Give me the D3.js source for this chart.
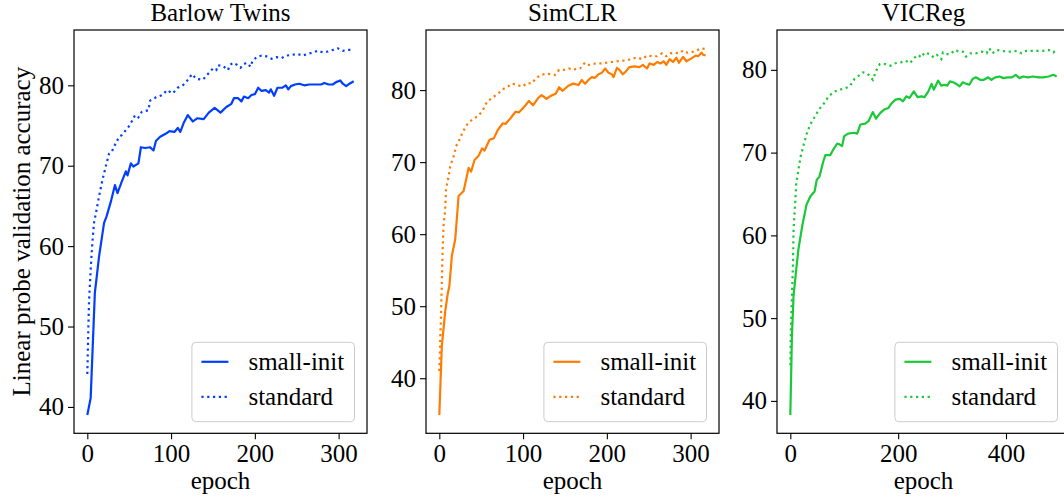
<!DOCTYPE html>
<html>
<head>
<meta charset="utf-8">
<script src="https://cdn.jsdelivr.net/npm/d3@7"></script>
<style>
  body { margin: 0; background: #fff; }
  svg text { font-family: "Liberation Serif", "DejaVu Serif", serif; fill: #000; }
</style>
</head>
<body>
<svg id="chart" width="1064" height="497"></svg>
<script>
// [epoch, accuracy] pairs
const barlowSmall = [[0,39.0],[4,41.1],[9,54.2],[14,58.7],[20,62.9],[23,63.7],[28,65.5],[33,67.6],[36,66.6],[41,68.0],[46,69.3],[48,68.8],[52,70.3],[55,69.9],[61,70.3],[64,72.3],[69,72.2],[75,72.3],[79,71.9],[82,73.1],[87,73.6],[94,74.0],[98,74.3],[104,74.2],[108,74.7],[111,74.2],[115,75.3],[120,76.3],[126,75.5],[131,75.9],[139,75.8],[145,76.6],[152,77.2],[159,76.6],[166,77.3],[172,77.7],[175,78.4],[180,78.4],[184,78.0],[187,78.6],[192,78.4],[196,78.8],[200,78.9],[204,79.7],[208,79.3],[213,79.4],[217,79.1],[219,79.5],[223,78.7],[227,79.7],[233,79.7],[237,80.0],[240,79.5],[243,79.9],[248,80.1],[253,80.2],[259,80.0],[265,80.1],[273,80.1],[279,80.1],[283,80.3],[288,80.1],[293,80.1],[297,80.4],[302,80.6],[305,80.2],[309,79.9],[313,80.2],[318,80.5]];
const barlowStd = [[0,44.1],[1,48.8],[2,53.0],[4,57.1],[6,60.4],[8,62.9],[11,64.5],[14,66.2],[18,68.2],[22,69.9],[26,71.5],[29,71.7],[33,72.6],[38,73.6],[41,73.8],[49,74.8],[53,75.5],[57,76.3],[61,76.0],[65,76.7],[69,76.8],[73,76.9],[75,78.1],[82,78.5],[90,78.8],[95,79.4],[102,79.0],[108,79.7],[114,80.0],[118,80.4],[125,81.4],[130,80.8],[138,80.7],[144,81.4],[150,82.1],[154,81.9],[156,82.5],[162,82.4],[168,81.9],[170,82.5],[174,82.8],[178,82.6],[183,82.2],[186,82.6],[190,82.8],[195,82.3],[197,83.0],[202,83.5],[208,83.7],[214,83.6],[220,83.3],[226,83.5],[232,83.4],[238,83.7],[245,83.8],[251,83.9],[257,83.7],[263,83.9],[270,84.1],[275,84.3],[281,84.1],[287,84.2],[293,84.4],[299,84.6],[305,84.3],[312,84.4],[316,84.4]];

const simclrSmall = [[0,34.9],[3,44.5],[7,49.2],[10,51.7],[12,52.8],[15,57.0],[19,59.3],[23,65.3],[29,66.0],[35,69.2],[38,68.7],[42,70.3],[47,70.9],[51,71.9],[54,71.6],[60,73.1],[65,73.3],[70,74.5],[76,75.4],[79,75.3],[85,76.1],[91,77.0],[95,76.9],[103,77.9],[107,78.5],[112,77.9],[118,78.9],[122,79.3],[128,78.8],[133,79.2],[139,79.5],[143,80.4],[147,79.9],[154,80.6],[160,80.9],[166,80.7],[170,81.4],[174,80.9],[178,81.4],[182,81.8],[186,81.7],[190,82.2],[194,82.4],[198,83.0],[202,82.4],[206,82.2],[208,81.8],[212,83.1],[215,82.8],[219,82.2],[222,82.5],[227,83.2],[233,83.3],[239,83.2],[243,83.5],[248,83.0],[251,83.7],[256,83.5],[260,83.9],[264,83.7],[268,84.0],[271,83.5],[275,84.3],[279,83.9],[283,84.5],[286,83.8],[291,84.6],[295,84.0],[301,84.4],[306,84.8],[309,84.7],[313,85.2],[315,84.9],[318,84.8]];
const simclrStd = [[0,41.0],[1,45.0],[2,48.7],[3,53.3],[4,57.9],[5,61.1],[7,63.4],[8,66.2],[11,68.0],[13,69.4],[17,70.8],[20,72.2],[24,73.1],[28,74.2],[33,75.2],[39,75.9],[45,76.3],[51,77.0],[57,78.4],[63,78.9],[70,79.5],[77,80.2],[82,80.5],[87,80.9],[93,80.7],[99,80.5],[105,81.0],[110,80.9],[115,81.6],[121,82.1],[128,82.3],[133,82.2],[138,82.1],[143,82.8],[149,82.8],[155,83.0],[160,82.8],[164,83.0],[168,83.0],[173,83.7],[176,83.4],[181,83.6],[187,83.7],[193,83.7],[199,83.8],[206,83.9],[212,84.0],[218,84.1],[224,84.1],[230,84.4],[237,84.5],[242,84.3],[248,84.8],[254,84.7],[260,84.7],[266,85.1],[271,84.7],[276,85.1],[282,85.2],[286,85.1],[291,85.5],[296,85.2],[302,85.3],[307,85.5],[312,85.8],[318,85.7]];

const vicregSmall = [[0,38.3],[3,47.8],[6,52.7],[11,55.9],[15,58.3],[22,61.1],[30,63.7],[37,64.7],[45,65.3],[49,66.7],[54,67.1],[61,68.9],[65,69.7],[74,69.7],[80,70.4],[87,71.1],[91,71.0],[96,70.8],[100,72.0],[107,72.3],[118,72.4],[124,72.3],[130,73.4],[139,73.5],[145,73.8],[153,74.9],[159,74.1],[167,74.8],[174,75.2],[182,75.4],[187,75.9],[195,76.4],[203,76.5],[209,76.2],[215,76.8],[221,76.6],[229,77.4],[236,76.7],[243,76.8],[249,76.7],[256,77.4],[262,78.3],[266,77.6],[274,78.7],[280,78.1],[286,78.2],[291,78.1],[296,78.6],[302,78.5],[308,78.3],[314,78.0],[320,78.5],[327,78.3],[332,78.2],[338,78.9],[344,79.1],[352,78.8],[359,78.8],[367,79.1],[373,78.8],[380,79.1],[388,79.2],[395,79.0],[403,79.1],[411,79.1],[418,79.4],[425,79.0],[432,79.2],[441,79.1],[450,79.2],[460,79.1],[469,79.1],[479,79.2],[488,79.4],[494,79.2]];
const vicregStd = [[0,44.3],[1,48.6],[3,52.7],[5,56.7],[6,60.7],[9,63.9],[11,66.3],[15,67.9],[19,69.5],[25,71.0],[31,72.4],[37,73.4],[45,74.3],[53,75.2],[62,75.9],[71,76.8],[80,77.3],[90,77.6],[99,77.7],[110,78.0],[119,78.9],[127,79.3],[135,79.7],[141,79.6],[147,79.3],[153,78.8],[160,80.0],[166,80.7],[176,80.7],[186,80.5],[195,80.8],[205,80.9],[214,81.1],[222,80.8],[229,81.4],[237,81.8],[243,81.5],[249,82.1],[259,81.9],[266,81.5],[272,81.8],[280,81.3],[283,82.1],[289,81.9],[297,81.9],[305,82.4],[313,82.2],[320,82.2],[326,81.6],[334,82.0],[344,82.0],[355,82.2],[364,82.0],[369,82.6],[375,82.0],[383,82.4],[392,82.3],[401,82.2],[411,82.2],[420,82.3],[429,82.0],[438,82.3],[448,82.3],[458,82.3],[468,82.3],[479,82.4],[488,82.1],[494,82.5]];

const titles = ["Barlow Twins", "SimCLR", "VICReg"];
const colors = ["#023eff", "#ff7c00", "#1ac938"];
const seriesNames = ["small-init", "standard"];
const xTicks = [[0, 100, 200, 300], [0, 100, 200, 300], [0, 200, 400]];
const yTicks = [40, 50, 60, 70, 80];

const svg = d3.select("#chart");
const plotTop = 30, plotBottom = 433.3, panelW = 293;
const lefts = [74, 426, 777];
const fs = 25;

const panels = [
  { small: barlowSmall, std: barlowStd },
  { small: simclrSmall, std: simclrStd },
  { small: vicregSmall, std: vicregStd }
];

// matplotlib-style 5% margins around the data
function padded(ext) {
  const p = (ext[1] - ext[0]) * 0.05;
  return [ext[0] - p, ext[1] + p];
}

panels.forEach((p, i) => {
  const all = p.small.concat(p.std);
  const x = d3.scaleLinear()
    .domain(padded(d3.extent(all, d => d[0])))
    .range([lefts[i], lefts[i] + panelW]);
  const y = d3.scaleLinear()
    .domain(padded(d3.extent(all, d => d[1])))
    .range([plotBottom, plotTop]);

  const g = svg.append("g");

  const line = d3.line().x(d => x(d[0])).y(d => y(d[1]));

  g.append("path").datum(p.small)
    .attr("d", line).attr("fill", "none")
    .attr("stroke", colors[i]).attr("stroke-width", 2.2)
    .attr("stroke-linejoin", "round");
  g.append("path").datum(p.std)
    .attr("d", line).attr("fill", "none")
    .attr("stroke", colors[i]).attr("stroke-width", 2.2)
    .attr("stroke-dasharray", "2.2,3.6");

  // axes
  const xAxis = g.append("g").attr("transform", `translate(0,${plotBottom})`)
    .call(d3.axisBottom(x).tickValues(xTicks[i]).tickSize(6).tickPadding(5));
  const yAxis = g.append("g").attr("transform", `translate(${lefts[i]},0)`)
    .call(d3.axisLeft(y).tickValues(yTicks).tickSize(6).tickPadding(4));
  [xAxis, yAxis].forEach(a => {
    a.select(".domain").remove();
    a.selectAll("line").attr("stroke", "#000").attr("stroke-width", 1.1);
    a.selectAll("text").style("font-size", fs + "px")
      .style("font-family", '"Liberation Serif", serif');
  });

  // frame
  g.append("rect")
    .attr("x", lefts[i]).attr("y", plotTop)
    .attr("width", panelW).attr("height", plotBottom - plotTop)
    .attr("fill", "none").attr("stroke", "#000").attr("stroke-width", 1.2);

  g.append("text")
    .attr("x", lefts[i] + panelW / 2).attr("y", 21)
    .attr("text-anchor", "middle").style("font-size", fs + "px")
    .text(titles[i]);
  g.append("text")
    .attr("x", lefts[i] + panelW / 2).attr("y", 489)
    .attr("text-anchor", "middle").style("font-size", fs + "px")
    .text("epoch");

  // legend
  const lx = lefts[i] + panelW - 12.5 - 162.6, ly = plotBottom - 11.6 - 79.4;
  const lg = g.append("g").attr("transform", `translate(${lx},${ly})`);
  lg.append("rect")
    .attr("width", 162.6).attr("height", 79.4).attr("rx", 4)
    .attr("fill", "#fff").attr("fill-opacity", 0.8)
    .attr("stroke", "#cccccc").attr("stroke-width", 1);
  seriesNames.forEach((name, k) => {
    const cy = 19.5 + k * 35;
    lg.append("line")
      .attr("x1", 9.5).attr("x2", 36.5).attr("y1", cy).attr("y2", cy)
      .attr("stroke", colors[i]).attr("stroke-width", 2.2)
      .attr("stroke-dasharray", k === 1 ? "2.2,3.6" : null);
    lg.append("text")
      .attr("x", 56.5).attr("y", cy + 8)
      .style("font-size", fs + "px")
      .text(name);
  });
});

svg.append("text")
  .attr("transform", `translate(30,${(plotTop + plotBottom) / 2}) rotate(-90)`)
  .attr("text-anchor", "middle").style("font-size", fs + "px")
  .text("Linear probe validation accuracy");
</script>
</body>
</html>
